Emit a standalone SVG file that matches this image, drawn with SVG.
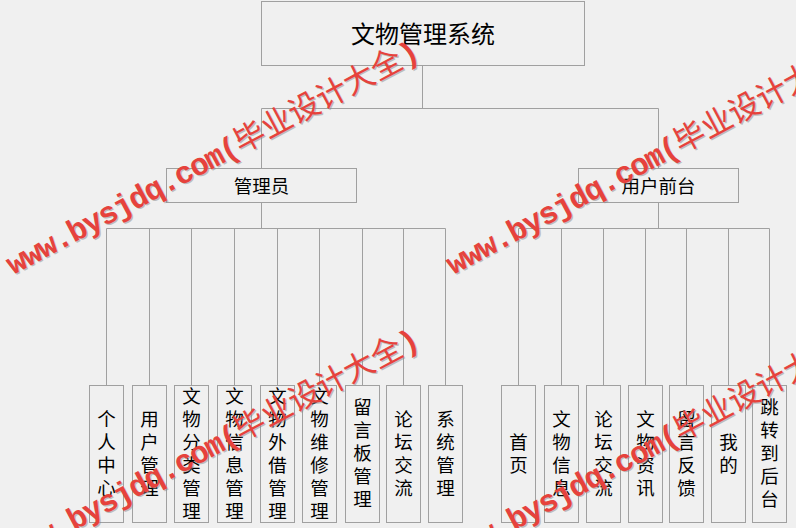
<svg xmlns="http://www.w3.org/2000/svg" xmlns:xlink="http://www.w3.org/1999/xlink" width="796" height="528" viewBox="0 0 796 528">
<style>
.bg{fill:#f0f0f0}
.box{fill:#f0f0f0;stroke:#a0a0a0;stroke-width:1}
.conn path{stroke:#a0a0a0;stroke-width:1;fill:none}
.t{font-family:"Noto Sans CJK SC","Liberation Sans",sans-serif;fill:#000;text-anchor:middle;dominant-baseline:central}
.root{font-size:24px}
.mid{font-size:18.5px}
.leaf{font-family:"Noto Sans CJK SC","Liberation Sans",sans-serif;fill:#000;font-size:18.5px;writing-mode:vertical-rl;text-anchor:middle;letter-spacing:4.5px}
.wm{font-size:31px}
.lat{font-family:"Liberation Mono","Noto Sans CJK SC",monospace;font-weight:bold;letter-spacing:-1.4px}
.cjk{font-family:"Noto Sans CJK SC",sans-serif}
.wmr{fill:#e6423c}
.wms{fill:#8a8a8a;opacity:.5}
</style>
<defs>
<text id="wmtext" class="wm"><tspan class="lat">www.bysjdq.com(</tspan><tspan class="cjk">毕业设计大全</tspan><tspan class="lat">)</tspan></text>
</defs>
<rect class="bg" x="0" y="0" width="796" height="528"/>

<g id="connectors" class="conn">
<path d="M422.5 65.5V108.5M261.5 108.5H658.5M261.5 108.5V168.5M658.5 108.5V168.5"/>
<path d="M261.5 202.5V228.5M106.5 228.5H445.5"/>
<path d="M106.5 228.5V385.5M149.5 228.5V385.5M191.5 228.5V385.5M234.5 228.5V385.5M277.5 228.5V385.5M319.5 228.5V385.5M362.5 228.5V385.5M403.5 228.5V385.5M445.5 228.5V385.5"/>
<path d="M658.5 202.5V228.5M518.5 228.5H769.5"/>
<path d="M518.5 228.5V385.5M561.5 228.5V385.5M603.5 228.5V385.5M645.5 228.5V385.5M686.5 228.5V385.5M728.5 228.5V385.5M769.5 228.5V385.5"/>
</g>

<g id="root">
<rect class="box" x="261.5" y="1.5" width="323" height="64"/>
<text class="t root" x="423" y="32">文物管理系统</text>
</g>
<g id="admin">
<rect class="box" x="166.5" y="168.5" width="190" height="34"/>
<text class="t mid" x="261.5" y="184.5">管理员</text>
</g>
<g id="front">
<rect class="box" x="578.5" y="168.5" width="160" height="34"/>
<text class="t mid" x="658.5" y="184.5">用户前台</text>
</g>

<g id="a1"><rect class="box" x="89.5" y="385.5" width="34" height="137"/><text class="leaf" x="106.5" y="455.5">个人中心</text></g>
<g id="a2"><rect class="box" x="132.5" y="385.5" width="34" height="137"/><text class="leaf" x="149.5" y="455.5">用户管理</text></g>
<g id="a3"><rect class="box" x="174.5" y="385.5" width="34" height="137"/><text class="leaf" x="191.5" y="455.5">文物分类管理</text></g>
<g id="a4"><rect class="box" x="217.5" y="385.5" width="34" height="137"/><text class="leaf" x="234.5" y="455.5">文物信息管理</text></g>
<g id="a5"><rect class="box" x="260.5" y="385.5" width="34" height="137"/><text class="leaf" x="277.5" y="455.5">文物外借管理</text></g>
<g id="a6"><rect class="box" x="302.5" y="385.5" width="34" height="137"/><text class="leaf" x="319.5" y="455.5">文物维修管理</text></g>
<g id="a7"><rect class="box" x="345.5" y="385.5" width="34" height="137"/><text class="leaf" x="362.5" y="455.5">留言板管理</text></g>
<g id="a8"><rect class="box" x="386.5" y="385.5" width="34" height="137"/><text class="leaf" x="403.5" y="455.5">论坛交流</text></g>
<g id="a9"><rect class="box" x="428.5" y="385.5" width="34" height="137"/><text class="leaf" x="445.5" y="455.5">系统管理</text></g>

<g id="u1"><rect class="box" x="501.5" y="385.5" width="34" height="137"/><text class="leaf" x="518.5" y="455.5">首页</text></g>
<g id="u2"><rect class="box" x="544.5" y="385.5" width="34" height="137"/><text class="leaf" x="561.5" y="455.5">文物信息</text></g>
<g id="u3"><rect class="box" x="586.5" y="385.5" width="34" height="137"/><text class="leaf" x="603.5" y="455.5">论坛交流</text></g>
<g id="u4"><rect class="box" x="628.5" y="385.5" width="34" height="137"/><text class="leaf" x="645.5" y="455.5">文物资讯</text></g>
<g id="u5"><rect class="box" x="669.5" y="385.5" width="34" height="137"/><text class="leaf" x="686.5" y="455.5">留言反馈</text></g>
<g id="u6"><rect class="box" x="711.5" y="385.5" width="34" height="137"/><text class="leaf" x="728.5" y="455.5">我的</text></g>
<g id="u7"><rect class="box" x="752.5" y="385.5" width="34" height="137"/><text class="leaf" x="769.5" y="455.5">跳转到后台</text></g>

<g id="watermarks">
<use xlink:href="#wmtext" class="wms" transform="translate(14.2,276.2) rotate(-28)"/>
<use xlink:href="#wmtext" class="wmr" transform="translate(13,275) rotate(-28)"/>
<use xlink:href="#wmtext" class="wms" transform="translate(454.2,276.2) rotate(-28)"/>
<use xlink:href="#wmtext" class="wmr" transform="translate(453,275) rotate(-28)"/>
<use xlink:href="#wmtext" class="wms" transform="translate(14.2,564.2) rotate(-28)"/>
<use xlink:href="#wmtext" class="wmr" transform="translate(13,563) rotate(-28)"/>
<use xlink:href="#wmtext" class="wms" transform="translate(454.2,564.2) rotate(-28)"/>
<use xlink:href="#wmtext" class="wmr" transform="translate(453,563) rotate(-28)"/>
</g>
</svg>
